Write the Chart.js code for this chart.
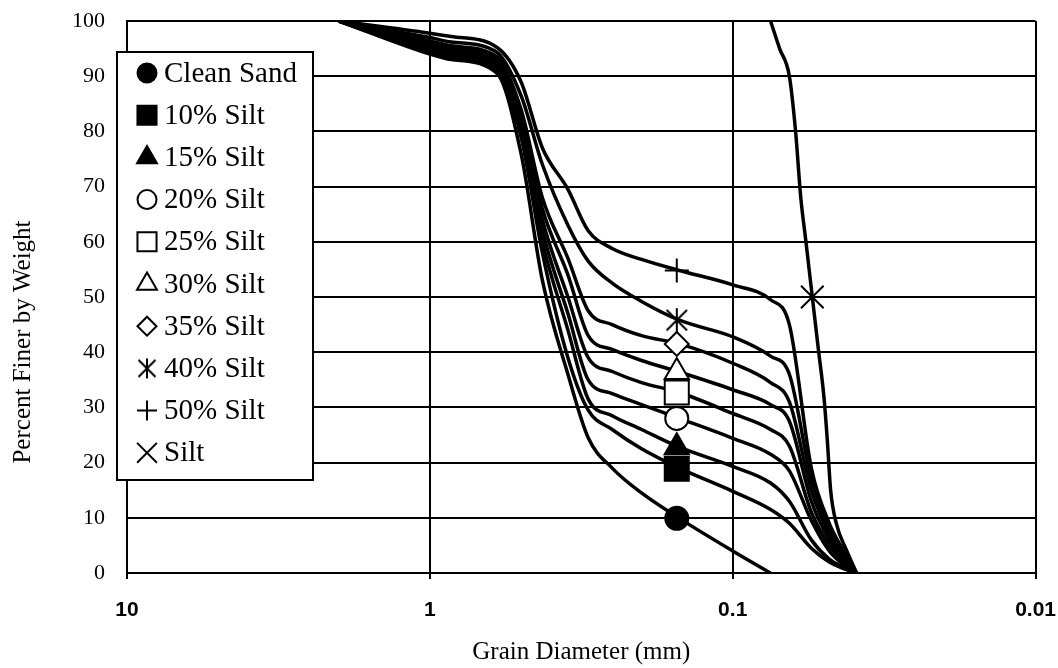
<!DOCTYPE html>
<html>
<head>
<meta charset="utf-8">
<script src="https://cdn.jsdelivr.net/npm/chart.js@4.4.1/dist/chart.umd.min.js"></script>
<style>
  html, body { margin: 0; padding: 0; background: #fff; }
  #wrap { width: 1058px; height: 668px; }
</style>
</head>
<body>
<div id="wrap"><canvas id="gradation" width="1058" height="668"></canvas></div>
<script>
/* ══════════════════════════════════════
   DATA
══════════════════════════════════════ */
const seriesNames = [
  "Clean Sand", "10% Silt", "15% Silt", "20% Silt", "25% Silt",
  "30% Silt", "35% Silt", "40% Silt", "50% Silt", "Silt",
];

// grain diameter (mm) for the sand / sand-silt mixes
const sandSizes = [2.0, 1.0, 0.85, 0.6, 0.5, 0.425, 0.35, 0.3, 0.25, 0.2, 0.15, 0.1, 0.075, 0.065, 0.055, 0.048, 0.043, 0.039];

// percent finer by weight
const cleanSand = [100, 94.0, 93.0, 90.5, 76, 53, 36, 24.5, 19, 14.5, 9.9, 4.0, 0];
const silt10 = [100, 94.3, 93.3, 91.0, 79, 58, 39, 29.5, 26.0, 22.5, 19.0, 14.8, 11.5, 9.0, 4.5, 2.0, 0.8, 0];
const silt15 = [100, 94.7, 93.7, 91.5, 80, 60, 44, 31.5, 28.5, 26.0, 22.8, 19.3, 16.3, 13.0, 6.0, 2.5, 1.0, 0];
const silt20 = [100, 95.1, 94.1, 92.0, 81, 62, 47, 35.0, 32.5, 30.5, 28.0, 24.4, 21.5, 18.5, 9.5, 4.0, 1.5, 0];
const silt25 = [100, 95.5, 94.5, 92.5, 82, 64, 50, 39.0, 36.5, 34.5, 32.7, 28.9, 26.0, 23.0, 11.0, 5.0, 2.0, 0];
const silt30 = [100, 95.9, 95.0, 93.0, 83, 66, 54, 43.0, 40.5, 38.5, 36.4, 33.2, 30.5, 27.5, 13.0, 6.0, 2.5, 0];
const silt35 = [100, 96.4, 95.5, 93.5, 84, 68, 57, 47.5, 45.0, 43.0, 41.5, 38.0, 34.5, 31.0, 15.0, 7.0, 3.0, 0];
const silt40 = [100, 97.0, 96.2, 94.3, 86.5, 74, 63, 56.5, 52.5, 49.2, 45.8, 42.8, 39.3, 36.0, 17.0, 8.0, 3.5, 0];
const silt50 = [100, 97.8, 97.2, 95.2, 89, 77, 69.5, 62.0, 58.8, 56.8, 54.8, 52.2, 49.5, 45.0, 19.0, 9.0, 4.0, 0];

// pure silt
const siltSizes = [0.075, 0.07, 0.065, 0.062, 0.0596, 0.0573, 0.0546, 0.052, 0.050, 0.0487, 0.0475, 0.0455, 0.042, 0.039];
const siltOnly = [100, 95, 90, 80, 68, 60, 50, 40, 32, 24, 15, 9, 4, 0];

// one marker per curve
const markerDiam = [0.153, 0.153, 0.153, 0.153, 0.153, 0.153, 0.153, 0.153, 0.153, 0.0546];
const markerPct = [9.9, 18.9, 22.8, 28.0, 32.7, 36.4, 41.5, 45.8, 54.8, 50.0];

const xTicks = [10, 1, 0.1, 0.01];
const xTickLabels = ["10", "1", "0.1", "0.01"];

const xTitle = "Grain Diameter (mm)";
const yTitle = "Percent Finer by Weight";

const curveValues = [cleanSand, silt10, silt15, silt20, silt25, silt30, silt35, silt40, silt50, siltOnly];

/* ══════════════════════════════════════
   MARKER STYLES
══════════════════════════════════════ */
function makeAsterisk(size, lw) {
  const c = document.createElement("canvas");
  c.width = size;
  c.height = size;
  const g = c.getContext("2d");
  const m = size / 2;
  const r = m - 1;
  const d = r * 0.85;
  g.strokeStyle = "#000";
  g.lineWidth = lw;
  g.beginPath();
  g.moveTo(m, m - r); g.lineTo(m, m + r);
  g.moveTo(m - d, m - d); g.lineTo(m + d, m + d);
  g.moveTo(m + d, m - d); g.lineTo(m - d, m + d);
  g.stroke();
  return c;
}

const starBig = makeAsterisk(26, 2);
const starSmall = makeAsterisk(22, 2);

// style, chart radius, legend radius, filled
const markerStyles = [
  ["circle", 11.5, 9.5, true],
  ["rect", 17, 13.5, true],
  ["triangle", 14, 11.5, true],
  ["circle", 11.5, 9.5, false],
  ["rect", 17, 13.5, false],
  ["triangle", 14, 11.5, false],
  ["rectRot", 12, 9.5, false],
  [starBig, 13, 11, false],
  ["cross", 12, 10, false],
  ["crossRot", 16, 14, false],
];

/* ══════════════════════════════════════
   DATASETS
══════════════════════════════════════ */
const markerSets = seriesNames.map((name, i) => {
  const [style, r, , filled] = markerStyles[i];
  return {
    label: name,
    data: [{ x: markerDiam[i], y: markerPct[i] }],
    showLine: false,
    pointStyle: style,
    pointRadius: r,
    pointHoverRadius: r,
    pointBackgroundColor: filled ? "#000" : "#fff",
    pointBorderColor: "#000",
    pointBorderWidth: 2,
    order: 0,
  };
});

const curveSets = curveValues.map((vals, i) => {
  const sizes = i === 9 ? siltSizes : sandSizes;
  return {
    label: seriesNames[i] + " curve",
    data: vals.map((v, k) => ({ x: sizes[k], y: v })),
    borderColor: "#000",
    borderWidth: 3.5,
    pointRadius: 0,
    cubicInterpolationMode: "monotone",
    fill: false,
    order: 1,
  };
});

/* ══════════════════════════════════════
   LEGEND BOX + Y TITLE
══════════════════════════════════════ */
const legendBox = {
  id: "legendBox",
  afterDraw(chart) {
    const ctx = chart.ctx;
    ctx.save();

    // y axis title sits lower than the plot centre in the original
    ctx.save();
    ctx.translate(23, 342);
    ctx.rotate(-Math.PI / 2);
    ctx.font = "25px 'Liberation Serif', 'Times New Roman', serif";
    ctx.fillStyle = "#000";
    ctx.textAlign = "center";
    ctx.textBaseline = "middle";
    ctx.fillText(yTitle, 0, 0);
    ctx.restore();

    ctx.fillStyle = "#fff";
    ctx.fillRect(117, 52, 196, 428);
    ctx.strokeStyle = "#000";
    ctx.lineWidth = 2;
    ctx.strokeRect(117, 52, 196, 428);

    ctx.font = "29px 'Liberation Serif', 'Times New Roman', serif";
    ctx.textBaseline = "middle";
    ctx.textAlign = "left";

    seriesNames.forEach((name, i) => {
      const [style, , lr, filled] = markerStyles[i];
      const y = 73 + i * 42.2;
      const x = 147;
      ctx.fillStyle = filled ? "#000" : "#fff";
      ctx.strokeStyle = "#000";
      ctx.lineWidth = 2;
      if (style === starBig) {
        ctx.drawImage(starSmall, x - 11, y - 11);
      } else {
        Chart.helpers.drawPoint(ctx, { pointStyle: style, radius: lr, borderWidth: 2, rotation: 0 }, x, y);
      }
      ctx.fillStyle = "#000";
      ctx.fillText(name, 164, y + 1);
    });
    ctx.restore();
  },
};

/* ══════════════════════════════════════
   CHART
══════════════════════════════════════ */
new Chart(document.getElementById("gradation"), {
  type: "line",
  data: { datasets: [...markerSets, ...curveSets] },
  options: {
    responsive: false,
    animation: false,
    devicePixelRatio: 1,
    layout: { padding: { top: 21, right: 0, left: 0, bottom: 0 } },
    plugins: {
      legend: { display: false },
      tooltip: { enabled: false },
    },
    scales: {
      x: {
        type: "logarithmic",
        reverse: true,
        min: 0.01,
        max: 10,
        afterBuildTicks: (scale) => {
          scale.ticks = xTicks.map((v) => ({ value: v }));
        },
        afterFit: (scale) => {
          scale.height = 95;
        },
        ticks: {
          color: "#000",
          padding: 2,
          maxRotation: 0,
          autoSkip: false,
          font: { family: "'Liberation Sans', Arial, sans-serif", size: 21, weight: "bold", lineHeight: 2.76 },
          callback: (value, index) => xTickLabels[index],
        },
        grid: { color: "#000", lineWidth: 2, drawTicks: true, tickLength: 6 },
        border: { color: "#000", width: 2 },
        title: {
          display: true,
          text: xTitle,
          color: "#000",
          padding: { top: 0, bottom: 1 },
          font: { family: "'Liberation Serif', 'Times New Roman', serif", size: 25 },
        },
      },
      y: {
        min: 0,
        max: 100,
        afterFit: (scale) => {
          scale.width = 127;
        },
        ticks: {
          stepSize: 10,
          color: "#000",
          padding: 0,
          font: { family: "'Liberation Serif', 'Times New Roman', serif", size: 22 },
        },
        grid: { color: "#000", lineWidth: 2, drawTicks: true, tickLength: 22, tickColor: "rgba(0,0,0,0)" },
        border: { color: "#000", width: 2 },
      },
    },
  },
  plugins: [legendBox],
});
</script>
</body>
</html>
